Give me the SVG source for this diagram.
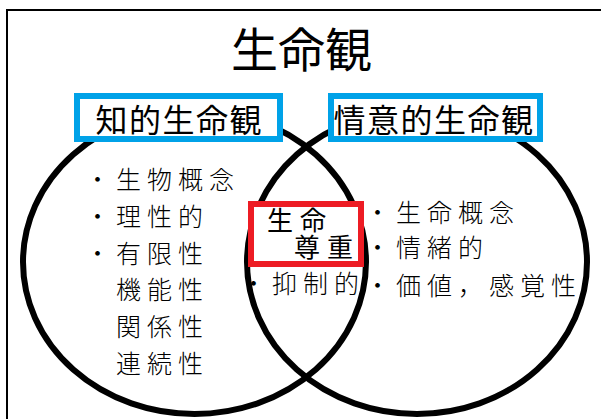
<svg xmlns="http://www.w3.org/2000/svg" width="601" height="419" viewBox="0 0 601 419">
  <style>
    text { font-family: "Noto Sans CJK JP", "Noto Sans CJK SC", sans-serif; fill: #000; }
    .title { font-size: 47px; }
    .label { font-size: 32px; letter-spacing: 1.5px; }
    .item { font-size: 25px; letter-spacing: 6px; font-weight: 300; }
    .core { font-size: 26px; letter-spacing: 7px; }
    .circle { fill: none; stroke: #000; stroke-width: 6; }
    .bluebox { fill: #fff; stroke: #00A2E8; stroke-width: 6; }
    .redbox { fill: #fff; stroke: #ED1C24; stroke-width: 6; }
  </style>
  <rect width="601" height="419" fill="#fff"/>
  <rect id="frame" x="7" y="10" width="700" height="500" fill="none" stroke="#000" stroke-width="2"/>
  <g id="title"><text class="title" x="231" y="67">生命観</text></g>
  <g id="venn">
    <ellipse id="left-circle" class="circle" cx="194.5" cy="262" rx="171.5" ry="152"/>
    <ellipse id="right-circle" class="circle" cx="417" cy="262" rx="170" ry="152"/>
  </g>
  <g id="intellectual">
    <rect class="bluebox" x="77" y="96" width="203" height="43"/>
    <text class="label" x="95.5" y="131.5">知的生命観</text>
  </g>
  <g id="emotional">
    <rect class="bluebox" x="331" y="96" width="209" height="43"/>
    <text class="label" x="333.5" y="131.5">情意的生命観</text>
  </g>
  <g id="left-list">
    <text class="item" x="85" y="189">・生物概念</text>
    <text class="item" x="85" y="226">・理性的</text>
    <text class="item" x="85" y="263">・有限性</text>
    <text class="item" x="116" y="299">機能性</text>
    <text class="item" x="116" y="336">関係性</text>
    <text class="item" x="116" y="373">連続性</text>
  </g>
  <g id="respect-for-life">
    <rect class="redbox" x="251" y="204" width="110" height="60"/>
    <text class="core"><tspan x="267" y="230">生命</tspan><tspan x="294" y="257">尊重</tspan></text>
  </g>
  <g id="middle-list">
    <text class="item" x="241" y="293">・抑制的</text>
  </g>
  <g id="right-list">
    <text class="item" x="365" y="222">・生命概念</text>
    <text class="item" x="365" y="257">・情緒的</text>
    <text class="item" x="365" y="294.5">・価値，感覚性</text>
  </g>
</svg>
